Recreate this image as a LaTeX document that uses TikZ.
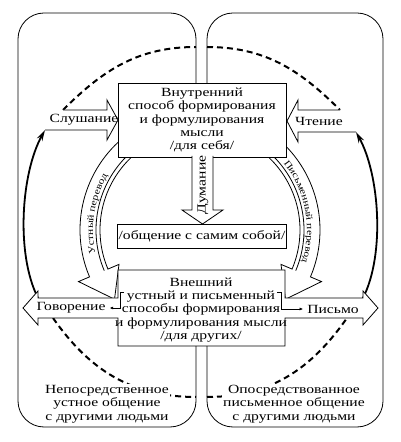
\documentclass[tikz,border=0pt]{standalone}
\usepackage{fontspec}
\setmainfont{Liberation Serif}[FakeStretch=1.25]
\usetikzlibrary{calc,arrows.meta,decorations.text}
\newcommand{\bodyfont}{\fontsize{12.5}{13.4}\selectfont}
\newcommand{\arcfont}{\fontsize{9.2}{11}\selectfont}
\tikzset{
  panel/.style={draw, line width=0.8pt, rounded corners=26pt},
  box/.style={draw, fill=white, line width=0.8pt},
  lbl/.style={font=\bodyfont, align=center, inner sep=1pt},
  dasharc/.style={line width=2pt, dash pattern=on 6pt off 4pt},
  boldarc/.style={line width=1.8pt, -{Stealth[length=11pt,width=6pt]}, looseness=0.75},
  elbow/.style={line width=0.6pt, -{Latex[length=3.5pt,width=3pt]}}
}

\begin{document}
\begin{tikzpicture}[x=1pt,y=1pt]
      \useasboundingbox (0,0) rectangle (400,442);
      % two kinds of communication
      \draw[panel] (18,15) rectangle (196,429);
      \draw[panel] (207,15) rectangle (383,429);
      \fill[white] (118,96) rectangle (286,359);

      \coordinate (hub) at (200,212);
      \coordinate (slT) at (63,332);
      \coordinate (slB) at (45,312);
      \coordinate (chT) at (340,332);
      \coordinate (chB) at (356,310);
      \coordinate (goT) at (38,144);
      \coordinate (goB) at (53,124);
      \coordinate (piT) at (363,144);
      \coordinate (piB) at (347,124);
      \coordinate (topL) at (196,395);
      \coordinate (topR) at (207,395);
      \coordinate (botL) at (196,45);
      \coordinate (botR) at (207,45);

      \draw[dasharc] (slT) to[out=45,in=180] (topL) (topR) to[out=0,in=135] (chT);
      \draw[dasharc] (goB) to[out=-55,in=180] (botL) (botR) to[out=0,in=235] (piB);
      \draw[boldarc] (goT) to[out=117,in=241] (slB);
      \draw[boldarc] (piT) to[out=63,in=-61] (chB);

      % translation arcs
      \draw[box] ($(hub)+(128:120pt)$) arc[start angle=128,end angle=203,radius=120pt]
        -- ($(hub)+(203:132pt)$) -- ($(hub)+(219:110pt)$) -- ($(hub)+(203:88pt)$)
        -- ($(hub)+(203:100pt)$) arc[start angle=203,end angle=128,radius=100pt] -- cycle;
      \draw[line width=0.8pt] ($(hub)+(128:104pt)$) arc[start angle=128,end angle=203,radius=104pt];
      \draw[box] ($(hub)+(52:120pt)$) arc[start angle=52,end angle=-23,radius=120pt]
        -- ($(hub)+(-23:132pt)$) -- ($(hub)+(-39:110pt)$) -- ($(hub)+(-23:88pt)$)
        -- ($(hub)+(-23:100pt)$) arc[start angle=-23,end angle=52,radius=100pt] -- cycle;
      \draw[line width=0.8pt] ($(hub)+(52:104pt)$) arc[start angle=52,end angle=-23,radius=104pt];
      \path[decorate,decoration={text along path,text align=center,
        text={|\arcfont|Устный перевод}}]
        ($(hub)+(206:107pt)$) arc[start angle=206,end angle=136,radius=107pt];
      \path[decorate,decoration={text along path,text align=center,
        text={|\arcfont|Письменный перевод}}]
        ($(hub)+(45:107pt)$) arc[start angle=45,end angle=-24,radius=107pt];

      % input arrows and inner box
      \draw[box] (slT) -- (107,332) -- (107,342) -- (118,322) -- (107,302) -- (107,312) -- (slB);
      \draw[box] (chT) -- (298,332) -- (298,342) -- (287,321) -- (298,300) -- (298,310) -- (chB);
      \node[box,lbl,minimum width=168pt,minimum height=74pt] (inner) at (202,322)
        {Внутренний\\способ формирования\\и формулирования\\мысли\\/для себя/};
      \draw[box] (192,286) -- (192,232) -- (182,232) -- (202.5,218) -- (223,232) -- (213,232) -- (213,286);
      \node[lbl,rotate=90] (think) at (203,257) {Думание};
      \node[box,lbl,minimum width=168pt,minimum height=24pt] (selfbox) at (202,206)
        {/общение с самим собой/};

      % outer box with output arrows
      \draw[box] (118,172) -- (285,172) -- (285,144) -- (piT) -- (363,151) -- (378,134)
        -- (363,117) -- (363,124) -- (285,124) -- (285,96) -- (118,96) -- (118,124)
        -- (38,124) -- (38,117) -- (23,134) -- (38,151) -- (goT) -- (118,144) -- cycle;
      \node[lbl] (outer) at (201,132)
        {Внешний\\устный и письменный\\способы формирования\\и формулирования мысли\\/для других/};

      \node[lbl] (listen) at (84,322) {Слушание};
      \node[lbl] (read) at (319,321) {Чтение};
      \node[lbl] (speak) at (71,134) {Говорение};
      \node[lbl] (write) at (333,133) {Письмо};
      \coordinate (brL) at (124,150);
      \coordinate (brR) at (277,150);
      \draw[elbow,shorten >=3pt] (brL) -- ++(-4,0) |- (speak.east);
      \draw[elbow,shorten >=3pt] (brR) -- ++(4,0) |- (write.west);

      \node[lbl,fill=white] (direct) at (107,38) {Непосредственное\\устное общение\\с другими людьми};
      \node[lbl,fill=white] (mediated) at (294,38) {Опосредствованное\\письменное общение\\с другими людьми};
\end{tikzpicture}
\end{document}
